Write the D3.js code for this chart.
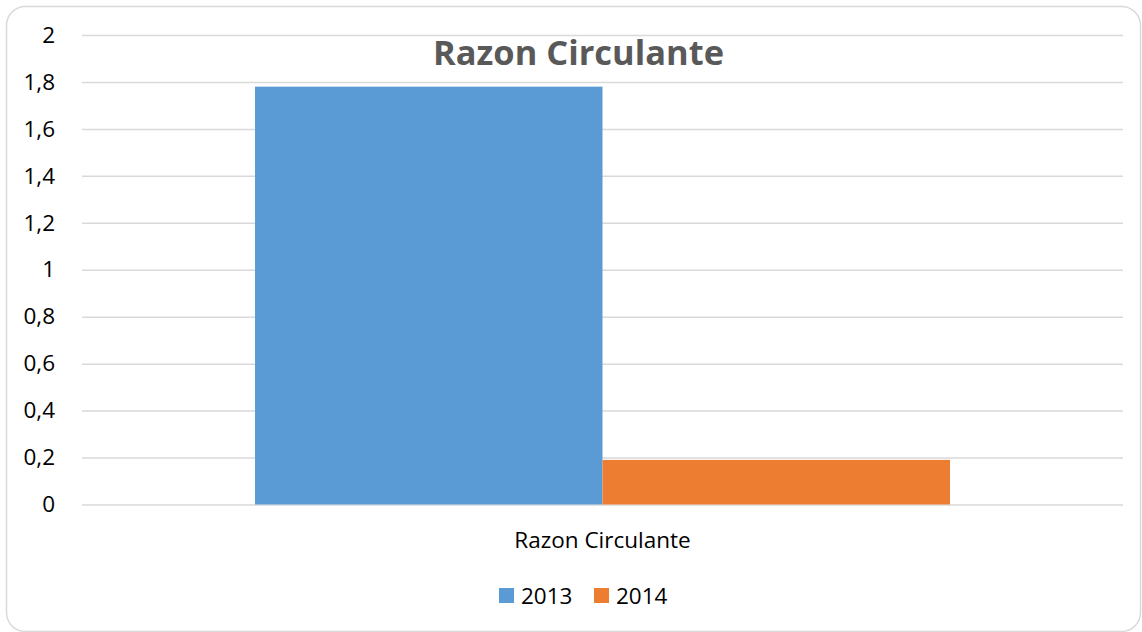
<!DOCTYPE html>
<html>
<head>
<meta charset="utf-8">
<script src="https://cdn.jsdelivr.net/npm/d3@7"></script>
<style>
  html, body { margin: 0; padding: 0; background: #fff; }
  svg { display: block; }
</style>
</head>
<body>
<svg id="chart" width="1142" height="632"></svg>
<script>
const categories = ["Razon Circulante"];
const seriesNames = ["2013", "2014"];
const values2013 = [1.78];
const values2014 = [0.19];
const tickValues = [0, 0.2, 0.4, 0.6, 0.8, 1, 1.2, 1.4, 1.6, 1.8, 2];
const tickLabels = ["0", "0,2", "0,4", "0,6", "0,8", "1", "1,2", "1,4", "1,6", "1,8", "2"];
const colors = ["#5B9BD5", "#ED7D31"];
const title = "Razon Circulante";

const svg = d3.select("#chart");
const font = "'Open Sans', 'DejaVu Sans', sans-serif";
const fs = 22.5;

// chart border
svg.append("rect")
  .attr("x", 6.5).attr("y", 6.5)
  .attr("width", 1134).attr("height", 625)
  .attr("rx", 19).attr("ry", 19)
  .attr("fill", "#fff").attr("stroke", "#d9d9d9").attr("stroke-width", 1.5);

const plot = { left: 82, right: 1123, top: 35, bottom: 504.5 };

const y = d3.scaleLinear().domain([0, 2]).range([plot.bottom, plot.top]);
const x0 = d3.scaleBand().domain(categories).range([plot.left, plot.right])
  .paddingInner(0.3324).paddingOuter(0.1662);
const x1 = d3.scaleBand().domain(seriesNames).range([0, x0.bandwidth()]).padding(0);

// gridlines via axis
const grid = svg.append("g")
  .attr("transform", `translate(${plot.left},0)`)
  .call(d3.axisLeft(y).tickValues(tickValues)
    .tickSize(-(plot.right - plot.left)).tickFormat(""));
grid.select(".domain").remove();
grid.selectAll(".tick line").attr("stroke", "#d9d9d9").attr("stroke-width", 1.5);

// y tick labels via axis
const yAxis = svg.append("g")
  .attr("transform", `translate(55,0)`)
  .call(d3.axisLeft(y).tickValues(tickValues).tickSize(0).tickPadding(0)
    .tickFormat((d, i) => tickLabels[i]));
yAxis.select(".domain").remove();
yAxis.selectAll(".tick text")
  .attr("font-family", font).attr("font-size", fs).attr("fill", "#000");

// bars
const data = categories.map((c, i) => ({ cat: c, vals: [values2013[i], values2014[i]] }));
const groups = svg.selectAll(".grp").data(data).enter().append("g")
  .attr("transform", d => `translate(${x0(d.cat)},0)`);
groups.selectAll("rect").data(d => d.vals.map((v, j) => ({ s: seriesNames[j], v, j })))
  .enter().append("rect")
  .attr("x", d => x1(d.s))
  .attr("width", x1.bandwidth())
  .attr("y", d => y(d.v))
  .attr("height", d => y(0) - y(d.v))
  .attr("fill", d => colors[d.j]);

// x axis (category labels)
const xAxis = svg.append("g")
  .attr("transform", `translate(0,${plot.bottom})`)
  .call(d3.axisBottom(x0).tickSize(0).tickPadding(0));
xAxis.select(".domain").remove();
xAxis.selectAll(".tick text")
  .attr("y", 43).attr("dy", 0)
  .attr("font-family", font).attr("font-size", fs).attr("fill", "#000");

// title
svg.append("text")
  .attr("x", 578.5).attr("y", 65)
  .attr("text-anchor", "middle")
  .attr("font-family", font).attr("font-weight", "bold")
  .attr("font-size", 34).attr("fill", "#595959")
  .attr("textLength", 291).attr("lengthAdjust", "spacingAndGlyphs")
  .text(title);

// legend
const legendItems = [{ x: 499, tx: 521 }, { x: 594, tx: 616 }];
const lg = svg.append("g");
seriesNames.forEach((s, i) => {
  lg.append("rect").attr("x", legendItems[i].x).attr("y", 588)
    .attr("width", 15).attr("height", 15).attr("fill", colors[i]);
  lg.append("text").attr("x", legendItems[i].tx).attr("y", 603.5)
    .attr("font-family", font).attr("font-size", fs).attr("fill", "#000")
    .text(s);
});
</script>
</body>
</html>
